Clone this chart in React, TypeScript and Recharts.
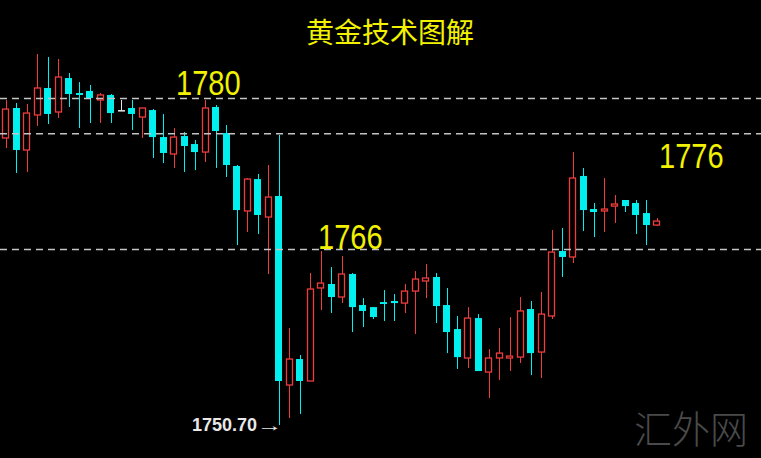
import { Bar, ComposedChart, ReferenceLine, XAxis, YAxis } from 'recharts';

// OHLC, one entry per candle (63 candles)
const OPEN = [
  1775.79, 1778.41, 1774.74, 1777.8, 1780.16, 1778.06, 1781.03, 1779.72, 1779.9, 1779.11,
  1779.55, 1778.23, 1778.41, 1777.62, 1778.23, 1775.87, 1774.39, 1775.96, 1775.26, 1774.56,
  1778.5, 1776.22, 1773.34, 1769.41, 1772.2, 1768.88, 1770.72, 1754.2, 1756.47, 1754.55,
  1762.68, 1763.03, 1761.89, 1763.9, 1761.19, 1761.01, 1761.45, 1761.54, 1761.36, 1762.41,
  1763.29, 1763.64, 1761.19, 1759.09, 1756.56, 1760.05, 1755.33, 1756.56, 1756.56, 1756.64,
  1760.84, 1757.08, 1760.23, 1765.91, 1765.39, 1772.47, 1769.58, 1769.41, 1769.84, 1770.37,
  1770.11, 1769.23, 1768.18,
];
const HIGH = [
  1779.11, 1778.85, 1778.76, 1783.13, 1782.87, 1782.69, 1781.47, 1780.68, 1780.42, 1779.72,
  1779.63, 1779.11, 1779.11, 1778.41, 1778.32, 1777.89, 1776.66, 1776.31, 1775.61, 1779.11,
  1778.67, 1776.92, 1773.43, 1772.29, 1772.64, 1773.43, 1776.05, 1759.18, 1756.82, 1763.99,
  1765.91, 1764.51, 1765.47, 1763.99, 1761.8, 1761.01, 1762.5, 1762.15, 1763.03, 1764.16,
  1764.77, 1763.99, 1762.68, 1760.23, 1761.01, 1760.4, 1757.34, 1759.18, 1760.14, 1761.89,
  1761.54, 1762.33, 1767.75, 1767.92, 1774.56, 1773.17, 1770.11, 1772.29, 1770.8, 1770.37,
  1770.37, 1770.37, 1768.79,
];
const LOW = [
  1774.91, 1772.73, 1772.82, 1776.84, 1777.01, 1777.54, 1778.5, 1776.66, 1777.1, 1777.1,
  1777.1, 1778.15, 1776.49, 1775.79, 1774.04, 1773.6, 1773.17, 1772.82, 1772.99, 1773.69,
  1773.17, 1772.38, 1766.43, 1767.57, 1767.4, 1763.9, 1750.7, 1751.31, 1751.66, 1754.55,
  1760.75, 1760.49, 1761.36, 1758.83, 1759.27, 1759.97, 1759.79, 1759.79, 1760.49, 1758.65,
  1761.8, 1759.62, 1756.99, 1755.6, 1755.68, 1755.42, 1753.06, 1754.63, 1755.42, 1756.12,
  1755.07, 1754.81, 1759.97, 1763.64, 1764.86, 1767.66, 1767.13, 1767.57, 1768.36, 1769.32,
  1767.4, 1766.43, 1768.1,
];
const CLOSE = [
  1778.32, 1774.74, 1777.97, 1780.16, 1777.89, 1781.12, 1779.63, 1779.55, 1779.28, 1779.55,
  1777.97, 1778.23, 1777.89, 1778.41, 1775.87, 1774.48, 1775.87, 1775.09, 1774.56, 1778.41,
  1776.4, 1773.43, 1769.49, 1772.2, 1769.06, 1770.63, 1754.55, 1756.47, 1754.55, 1762.59,
  1763.11, 1761.89, 1763.9, 1761.01, 1760.67, 1760.14, 1761.28, 1761.36, 1762.41, 1763.46,
  1763.55, 1761.1, 1758.83, 1756.64, 1760.05, 1755.42, 1756.56, 1756.99, 1756.73, 1760.67,
  1756.99, 1760.4, 1765.82, 1765.39, 1772.29, 1769.49, 1769.32, 1769.58, 1770.02, 1769.84,
  1769.06, 1768.18, 1768.53,
];

// empty slots to the right of the last candle
const SLOTS = 73;
const LEVELS = [1779.25, 1776.15, 1766.05];
const Y_DOMAIN = [1747.82, 1787.85];

const UP = '#f03c3c';
const DOWN = '#00f0f0';
const FLAT = '#e6e6e6';

const data = Array.from({ length: SLOTS }, (_, i) =>
  i < OPEN.length
    ? {
        i,
        open: OPEN[i],
        high: HIGH[i],
        low: LOW[i],
        close: CLOSE[i],
        range: [LOW[i], HIGH[i]],
      }
    : { i, range: null },
);

function Candle(props: any) {
  const { x, y, width, height, payload } = props;
  if (!payload || payload.open == null || !height) return null;
  const { open, close, high, low } = payload;
  const k = height / (high - low);
  const top = y + (high - Math.max(open, close)) * k;
  const bot = y + (high - Math.min(open, close)) * k;
  const cx = Math.round(x + width / 2) + 0.5;
  const left = Math.round(x) + 0.5;
  const w = Math.round(width) - 1;

  if (close > open) {
    return (
      <g>
        <line x1={cx} y1={y} x2={cx} y2={y + height} stroke={UP} strokeWidth={1} />
        <rect x={left} y={top} width={w} height={Math.max(bot - top, 1)} fill="#000" stroke={UP} strokeWidth={1.3} />
      </g>
    );
  }
  const color = close < open ? DOWN : FLAT;
  return (
    <g>
      <line x1={cx} y1={y} x2={cx} y2={y + height} stroke={color} strokeWidth={1} />
      <rect x={left - 0.5} y={top} width={w + 1} height={Math.max(bot - top, 1.5)} fill={color} />
    </g>
  );
}

const yellow = '#f2f200';
const narrow = '"Liberation Sans", Arial, sans-serif';

export default function App() {
  return (
    <div
      style={{
        position: 'absolute',
        left: 0,
        top: 0,
        width: 761,
        height: 458,
        background: '#000',
        overflow: 'hidden',
      }}
    >
      <ComposedChart width={767} height={458} data={data} margin={{ top: 0, right: 0, bottom: 0, left: 0 }}>
        <XAxis dataKey="i" type="category" hide />
        <YAxis hide domain={Y_DOMAIN} allowDataOverflow />
        {LEVELS.map((v) => (
          <ReferenceLine key={v} y={v} stroke="#c4c4c4" strokeWidth={1.5} strokeDasharray="7 5" />
        ))}
        <Bar dataKey="range" barSize={7} shape={Candle} isAnimationActive={false} />
      </ComposedChart>

      <div
        style={{
          position: 'absolute',
          left: 0,
          width: 761,
          top: 13,
          textAlign: 'center',
          paddingLeft: 19,
          boxSizing: 'border-box',
          color: yellow,
          fontFamily: '"Noto Sans CJK SC", sans-serif',
          fontSize: 28,
          lineHeight: '36px',
        }}
      >
        黄金技术图解
      </div>
      {[
        { t: '1780', left: 176, top: 65 },
        { t: '1766', left: 318, top: 219 },
        { t: '1776', left: 659, top: 138 },
      ].map((l) => (
        <div
          key={l.t}
          style={{
            position: 'absolute',
            left: l.left,
            top: l.top,
            color: yellow,
            fontFamily: narrow,
            fontSize: 35,
            lineHeight: '35px',
            transform: 'scaleX(0.83)',
            transformOrigin: 'left top',
          }}
        >
          {l.t}
        </div>
      ))}
      <div
        style={{
          position: 'absolute',
          left: 192,
          top: 415,
          color: '#e8e8e8',
          fontFamily: '"Liberation Sans", Arial, sans-serif',
          fontWeight: 'bold',
          fontSize: 18,
          lineHeight: '20px',
          whiteSpace: 'nowrap',
        }}
      >
        1750.70
        <span
          style={{
            fontWeight: 'normal',
            fontSize: 16,
            display: 'inline-block',
            transform: 'scaleX(1.6)',
            transformOrigin: 'left center',
          }}
        >
          →
        </span>
      </div>
      <div
        style={{
          position: 'absolute',
          left: 634,
          top: 404,
          color: '#4a4a4a',
          fontFamily: '"Noto Sans CJK SC", sans-serif',
          fontWeight: 300,
          fontSize: 38,
          lineHeight: '46px',
        }}
      >
        汇外网
      </div>
    </div>
  );
}
